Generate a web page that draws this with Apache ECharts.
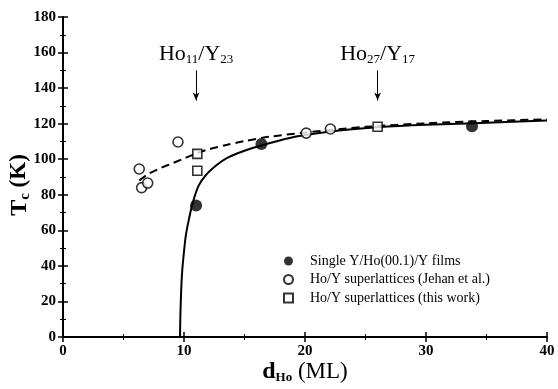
<!DOCTYPE html>
<html>
<head>
<meta charset="utf-8">
<script src="https://cdn.jsdelivr.net/npm/echarts@6/dist/echarts.min.js"></script>
<style>
  html, body { margin: 0; padding: 0; background: #fff; }
  #main { width: 558px; height: 389px; }
</style>
</head>
<body>
<div id="main"></div>
<script>
  // single films
  var filmsX = [11, 16.4, 33.8];
  var filmsT = [74, 108.5, 118.5];
  // Jehan et al. superlattices
  var jehanX = [6.3, 6.5, 7.0, 9.5, 20.1, 22.1];
  var jehanT = [94.5, 84, 86.6, 109.7, 114.7, 117];
  // this work
  var workX = [11.1, 11.1, 26];
  var workT = [103, 93.5, 118.3];
  // fitted curves (traced)
  var solidX = [9.67, 9.7, 9.76, 9.85, 10.0, 10.15, 10.4, 10.7, 11.2, 11.8, 12.7, 13.5, 14.77, 16.14, 17.5, 18.35, 20, 23, 26, 30, 34, 40];
  var solidT = [0, 12, 25, 37, 48, 57, 66, 75, 85, 91, 96.7, 100.5, 104.2, 107.2, 109.8, 111.4, 113.6, 116.3, 118, 119.4, 120.3, 121.8];
  var dashedX = [6.3, 7, 8, 9, 10, 11, 12, 13.5, 15, 17, 20, 25, 30, 35, 40];
  var dashedT = [88, 91.5, 94.8, 97.6, 100.4, 103.2, 105.5, 108, 110.2, 112.6, 115, 118.2, 120.2, 121.5, 122.4];
  // arrows + labels
  var arrowX = [11, 26];
  var arrowTop = 150;
  var arrowTip = 133;
  var arrowLabels = ['{a|Ho}{s|11}{a|/Y}{s|23}', '{a|Ho}{s|27}{a|/Y}{s|17}'];

  var legendNames = ['Single Y/Ho(00.1)/Y films', 'Ho/Y superlattices (Jehan et al.)', 'Ho/Y superlattices (this work)'];

  function pairs(xs, ys) {
    var out = [];
    for (var i = 0; i < xs.length; i++) out.push([xs[i], ys[i]]);
    return out;
  }

  var serif = 'Liberation Serif';
  var frame = { show: true, lineStyle: { color: '#000', width: 2 } };
  var tick = { inside: true, length: 5, lineStyle: { color: '#000', width: 1.5 } };
  var minor = { show: true, splitNumber: 2, length: 3, lineStyle: { color: '#000' } };

  var myChart = echarts.init(document.getElementById('main'));

  var arrowData = arrowX.map(function (x, i) {
    return [
      { coord: [x, arrowTop], symbol: 'none',
        label: { formatter: arrowLabels[i] } },
      { coord: [x, arrowTip], symbol: 'arrow', symbolSize: [5, 8] }
    ];
  });

  myChart.setOption({
    animation: false,
    backgroundColor: '#fff',
    grid: { left: 63, right: 11, top: 17, bottom: 52, outerBoundsMode: 'none' },
    legend: {
      orient: 'vertical',
      left: 278,
      top: 249,
      itemWidth: 9,
      itemHeight: 9,
      itemGap: 4.5,
      data: legendNames,
      textStyle: { fontFamily: serif, fontSize: 14, color: '#000', padding: [0, 0, 0, 12] }
    },
    xAxis: [{
      type: 'value', min: 0, max: 40, interval: 10,
      axisLine: frame, axisTick: tick, minorTick: minor,
      splitLine: { show: false },
      axisLabel: { fontFamily: serif, fontWeight: 'bold', fontSize: 15, color: '#000', margin: 7 },
      name: '{d|d}{s|Ho}{m| (ML)}',
      nameLocation: 'middle',
      nameMoveOverlap: false,
      nameGap: 22,
      nameTextStyle: {
        rich: {
          d: { fontFamily: serif, fontWeight: 'bold', fontSize: 24, color: '#000' },
          s: { fontFamily: serif, fontWeight: 'bold', fontSize: 13, color: '#000', padding: [12, 0, 0, 0] },
          m: { fontFamily: serif, fontSize: 23, color: '#000' }
        }
      }
    }, {
      type: 'value', min: 0, max: 40, interval: 10, position: 'top',
      axisLine: frame, axisTick: tick, minorTick: minor,
      splitLine: { show: false },
      axisLabel: { show: false }
    }],
    yAxis: [{
      type: 'value', min: 0, max: 180, interval: 20,
      axisLine: frame, axisTick: tick, minorTick: minor,
      splitLine: { show: false },
      axisLabel: { fontFamily: serif, fontWeight: 'bold', fontSize: 15, color: '#000', margin: 7 },
      name: '{t|T}{s|c}{k| (K)}',
      nameLocation: 'middle',
      nameMoveOverlap: false,
      nameGap: 30,
      nameTextStyle: {
        padding: [0, 0, 0, -16],
        rich: {
          t: { fontFamily: serif, fontWeight: 'bold', fontSize: 24, color: '#000' },
          s: { fontFamily: serif, fontWeight: 'bold', fontSize: 15, color: '#000', padding: [12, 0, 0, 0] },
          k: { fontFamily: serif, fontWeight: 'bold', fontSize: 23, color: '#000' }
        }
      }
    }, {
      type: 'value', min: 0, max: 180, interval: 20, position: 'right',
      axisLine: frame, axisTick: tick, minorTick: minor,
      splitLine: { show: false },
      axisLabel: { show: false }
    }],
    series: [
      {
        type: 'line', data: pairs(solidX, solidT), smooth: 0.3,
        symbol: 'none', lineStyle: { color: '#000', width: 2 }, z: 2
      },
      {
        type: 'line', data: pairs(dashedX, dashedT), smooth: 0.3,
        symbol: 'none', lineStyle: { color: '#000', width: 2, type: [8, 5] }, z: 2,
        markLine: {
          silent: true,
          symbol: ['none', 'arrow'],
          lineStyle: { color: '#000', width: 1, type: 'solid' },
          label: {
            show: true, position: 'start', distance: 4,
            rich: {
              a: { fontFamily: serif, fontSize: 22, color: '#000' },
              s: { fontFamily: serif, fontSize: 13, color: '#000', padding: [12, 0, 0, 0] }
            }
          },
          data: arrowData
        }
      },
      {
        name: legendNames[0], type: 'scatter', data: pairs(filmsX, filmsT),
        symbol: 'circle', symbolSize: 12,
        itemStyle: { color: '#000' }, z: 4
      },
      {
        name: legendNames[1], type: 'scatter', data: pairs(jehanX, jehanT),
        symbol: 'circle', symbolSize: 10,
        itemStyle: { color: '#fff', borderColor: '#000', borderWidth: 1.6 }, z: 4
      },
      {
        name: legendNames[2], type: 'scatter', data: pairs(workX, workT),
        symbol: 'rect', symbolSize: 9,
        itemStyle: { color: '#fff', borderColor: '#000', borderWidth: 1.6 }, z: 4
      }
    ]
  });
</script>
</body>
</html>
